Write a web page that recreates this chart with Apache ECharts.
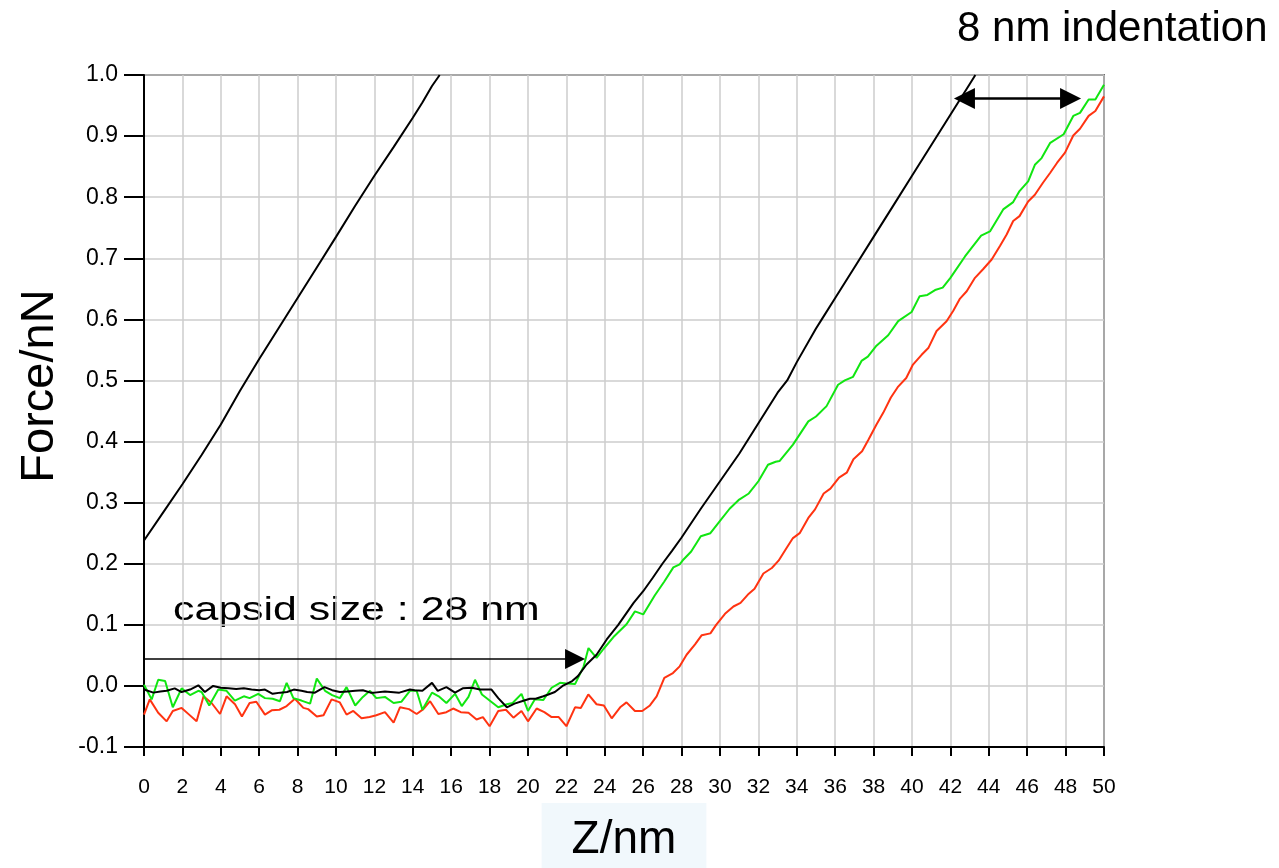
<!DOCTYPE html>
<html>
<head>
<meta charset="utf-8">
<script src="https://cdn.jsdelivr.net/npm/echarts@6/dist/echarts.min.js"></script>
<style>
html,body{margin:0;padding:0;background:#fff;}
#chart{width:1279px;height:868px;}
</style>
</head>
<body>
<div id="chart"></div>
<script>
// ---- Data (Z in nm, Force in nN) ----
const xTicks = [0,2,4,6,8,10,12,14,16,18,20,22,24,26,28,30,32,34,36,38,40,42,44,46,48,50];
const yTicks = [-0.1,0.0,0.1,0.2,0.3,0.4,0.5,0.6,0.7,0.8,0.9,1.0];

// reference (hard surface) curve
const refX = [0,1,2,3,4,5,6,7,8,9,10,11,12,13,14,14.5,15,15.4];
const refY = [0.238,0.284,0.33,0.378,0.428,0.483,0.535,0.585,0.635,0.685,0.735,0.786,0.835,0.882,0.93,0.955,0.982,1.0];

// black curve on capsid
const blackX = [0,0.49,0.85,1.18,1.6,1.96,2.4,2.83,3.17,3.6,4.0,4.4,4.8,5.2,5.6,6.0,6.3,6.7,7.1,7.45,7.8,8.2,8.5,8.9,9.4,9.8,10.2,10.6,11.0,11.4,11.8,12.0,12.55,13.3,13.85,14.1,14.5,15.0,15.3,15.75,16.2,16.6,17.07,17.5,18.1,18.45,18.9,19.3,19.8,20.1,20.4,20.8,21.06,21.4,21.8,22.3,22.6,23.05,23.57,24.1,24.7,25.5,26.0,26.5,27.0,27.5,28.0,29.0,30.0,31.0,32.0,33.0,33.5,34.0,35.0,35.3,36.0,37.0,38.0,39.0,40.0,41.0,42.0,43.0,43.3];
const blackY = [-0.006,-0.011,-0.009,-0.008,-0.004,-0.01,-0.006,0.001,-0.01,0.0,-0.003,-0.004,-0.005,-0.004,-0.006,-0.007,-0.006,-0.013,-0.011,-0.01,-0.006,-0.008,-0.01,-0.011,-0.002,-0.007,-0.01,-0.009,-0.008,-0.007,-0.011,-0.011,-0.009,-0.011,-0.006,-0.007,-0.008,0.005,-0.008,-0.002,-0.011,-0.004,-0.003,-0.006,-0.006,-0.02,-0.035,-0.029,-0.024,-0.021,-0.021,-0.017,-0.014,-0.01,0.0,0.008,0.016,0.035,0.051,0.076,0.1,0.136,0.155,0.177,0.2,0.221,0.243,0.29,0.335,0.38,0.43,0.48,0.5,0.53,0.585,0.6,0.635,0.685,0.735,0.785,0.835,0.885,0.935,0.985,1.0];

// green curve
const greenX = [0,0.4,0.74,1.1,1.5,1.96,2.4,2.83,3.0,3.4,3.87,4.3,4.73,5.2,5.5,5.95,6.3,6.7,7.08,7.43,7.78,8.2,8.65,9.0,9.43,9.8,10.2,10.55,11.0,11.4,11.77,12.1,12.55,13.0,13.4,13.85,14.2,14.5,15.0,15.35,15.75,16.2,16.55,16.9,17.24,17.6,18.0,18.45,18.9,19.2,19.66,20.0,20.36,20.8,21.23,21.67,22.0,22.45,22.9,23.15,23.57,23.92,24.45,25.13,25.57,26.0,26.6,27.1,27.57,27.9,28.1,28.5,29.0,29.5,30.0,30.5,31.0,31.5,32.0,32.5,32.9,33.1,33.8,34.6,35.0,35.55,36.15,36.5,36.93,37.37,37.7,38.15,38.76,39.28,39.98,40.4,40.8,41.2,41.6,42.0,42.76,43.6,44.06,44.75,45.27,45.6,46.05,46.4,46.75,47.2,47.9,48.4,48.75,49.2,49.55,50.0];
const greenY = [0.002,-0.022,0.01,0.008,-0.035,-0.004,-0.015,-0.008,-0.01,-0.032,-0.006,-0.008,-0.024,-0.017,-0.02,-0.013,-0.02,-0.021,-0.025,0.005,-0.02,-0.024,-0.029,0.012,-0.008,-0.015,-0.02,-0.002,-0.032,-0.018,-0.008,-0.02,-0.018,-0.028,-0.026,-0.008,-0.008,-0.039,-0.011,-0.017,-0.028,-0.013,-0.033,-0.018,0.01,-0.014,-0.024,-0.035,-0.03,-0.028,-0.013,-0.041,-0.022,-0.023,-0.003,0.005,0.004,0.003,0.032,0.062,0.046,0.06,0.08,0.101,0.122,0.117,0.148,0.171,0.194,0.199,0.207,0.22,0.245,0.25,0.27,0.29,0.305,0.315,0.335,0.362,0.367,0.368,0.395,0.433,0.441,0.458,0.493,0.5,0.506,0.532,0.539,0.557,0.574,0.597,0.612,0.638,0.64,0.648,0.652,0.668,0.703,0.737,0.744,0.78,0.792,0.81,0.826,0.853,0.864,0.889,0.903,0.933,0.938,0.96,0.96,0.984];

// red curve
const redX = [0,0.3,0.74,1.18,1.5,1.96,2.35,2.74,3.1,3.52,3.96,4.3,4.74,5.1,5.5,5.85,6.3,6.65,7.05,7.43,7.86,8.3,8.55,9.0,9.35,9.77,10.2,10.55,10.9,11.33,11.75,12.1,12.55,13.0,13.33,13.8,14.2,14.55,14.9,15.33,15.75,16.1,16.5,16.9,17.32,17.65,18.0,18.45,18.85,19.24,19.66,20.0,20.45,20.85,21.23,21.6,22.0,22.45,22.75,23.14,23.57,23.95,24.36,24.8,25.13,25.57,25.95,26.35,26.7,27.1,27.55,27.9,28.26,28.7,29.05,29.5,29.8,30.26,30.7,31.07,31.5,31.8,32.26,32.7,33.05,33.45,33.8,34.15,34.6,34.95,35.4,35.75,36.2,36.6,36.95,37.4,37.73,38.15,38.5,38.9,39.28,39.7,40.05,40.5,40.85,41.28,41.8,42.15,42.5,42.85,43.28,43.7,44.15,44.58,44.93,45.27,45.6,46.05,46.4,46.83,47.2,47.55,47.97,48.4,48.75,49.2,49.55,50];
const redY = [-0.047,-0.022,-0.044,-0.058,-0.041,-0.036,-0.047,-0.058,-0.017,-0.028,-0.046,-0.017,-0.03,-0.05,-0.028,-0.026,-0.047,-0.04,-0.039,-0.033,-0.021,-0.036,-0.038,-0.05,-0.048,-0.022,-0.027,-0.047,-0.041,-0.053,-0.051,-0.048,-0.043,-0.06,-0.035,-0.038,-0.046,-0.038,-0.025,-0.046,-0.043,-0.037,-0.043,-0.044,-0.055,-0.051,-0.066,-0.041,-0.039,-0.052,-0.041,-0.058,-0.037,-0.043,-0.051,-0.051,-0.066,-0.035,-0.036,-0.014,-0.03,-0.032,-0.053,-0.035,-0.027,-0.041,-0.041,-0.032,-0.017,0.013,0.021,0.032,0.051,0.068,0.083,0.086,0.1,0.118,0.13,0.136,0.151,0.159,0.184,0.193,0.205,0.225,0.242,0.25,0.275,0.289,0.315,0.323,0.341,0.349,0.371,0.384,0.403,0.428,0.447,0.472,0.49,0.504,0.526,0.542,0.553,0.581,0.597,0.614,0.634,0.646,0.668,0.682,0.698,0.72,0.739,0.761,0.769,0.793,0.804,0.824,0.84,0.856,0.873,0.901,0.912,0.933,0.941,0.965];

// annotation arrows (data coordinates)
const capsidArrow = {x0: 0, x1: 22.45, y: 0.044};
const indentArrow = {x0: 42.73, x1: 48.26, y: 0.9615};

const texts = {
  xName: 'Z/nm',
  yName: 'Force/nN',
  capsid: 'capsid size : 28 nm',
  indent: '8 nm indentation'
};

const FONT = 'Arial, "Liberation Sans", sans-serif';
const pairs = (xs, ys) => xs.map((x, i) => [x, ys[i]]);

const chart = echarts.init(document.getElementById('chart'), null, {renderer: 'canvas'});

const lineSeries = (name, xs, ys, color) => ({
  name, type: 'line', data: pairs(xs, ys), showSymbol: false, symbol: 'none',
  lineStyle: {color, width: 2}, itemStyle: {color}, z: 3, silent: true
});

chart.setOption({
  animation: false,
  backgroundColor: '#ffffff',
  grid: {left: 144, right: 175, top: 75, bottom: 121, show: true, borderColor: '#000', borderWidth: 1.5, containLabel: false, outerBoundsMode: 'none'},
  xAxis: {
    type: 'value', min: 0, max: 50, interval: 2,
    name: texts.xName, nameLocation: 'middle', nameGap: 56,
    nameTextStyle: {fontFamily: FONT, fontSize: 46, color: '#000', backgroundColor: '#f1f8fc', padding: [14, 30, 14, 30], lineHeight: 46},
    axisLine: {show: true, onZero: false, lineStyle: {color: '#000', width: 2}},
    axisTick: {show: true, inside: false, length: 9, lineStyle: {color: '#000', width: 2}},
    axisLabel: {fontFamily: FONT, fontSize: 21, color: '#000', margin: 30,
      formatter: v => xTicks.includes(Math.round(v)) ? String(Math.round(v)) : ''},
    splitLine: {show: true, lineStyle: {color: '#cccccc', width: 1.5}}
  },
  yAxis: {
    type: 'value', min: -0.1, max: 1.0, interval: 0.1,
    name: texts.yName, nameLocation: 'middle', nameGap: 80, nameRotate: 90,
    nameTextStyle: {fontFamily: FONT, fontSize: 47, color: '#000', padding: [0, 0, 0, 50]},
    axisLine: {show: true, onZero: false, lineStyle: {color: '#000', width: 2}},
    axisTick: {show: true, inside: false, length: 20, lineStyle: {color: '#000', width: 2}},
    axisLabel: {fontFamily: FONT, fontSize: 23, color: '#000', margin: 26,
      formatter: v => { const r = Math.round(v * 10) / 10; return (Math.abs(r) < 1e-9 ? 0 : r).toFixed(1); }},
    splitLine: {show: true, lineStyle: {color: '#cccccc', width: 1.5}}
  },
  series: [
    lineSeries('reference', refX, refY, '#000000'),
    lineSeries('red', redX, redY, '#ff3311'),
    lineSeries('green', greenX, greenY, '#11e611'),
    lineSeries('black', blackX, blackY, '#000000'),
    {
      name: 'arrows', type: 'line', data: [], clip: false, silent: true, z: 5,
      markLine: {
        silent: true, animation: false,
        symbol: ['none', 'triangle'], symbolSize: 20,
        label: {show: false},
        emphasis: {disabled: true},
        data: [
          [{coord: [capsidArrow.x0, capsidArrow.y], symbol: 'none', lineStyle: {color: '#000', width: 1.5, type: 'solid'}},
           {coord: [capsidArrow.x1, capsidArrow.y], symbol: 'triangle', symbolSize: 20}],
          [{coord: [indentArrow.x0, indentArrow.y], symbol: 'triangle', symbolSize: 21, lineStyle: {color: '#000', width: 2.5, type: 'solid'}},
           {coord: [indentArrow.x1, indentArrow.y], symbol: 'triangle', symbolSize: 21}]
        ],
        lineStyle: {color: '#000', type: 'solid'}
      }
    }
  ],
  graphic: [
    {type: 'text', x: 173, y: 611, scaleX: 1.26, silent: true,
      style: {text: texts.capsid, fontFamily: FONT, fontSize: 34, fill: '#000', textVerticalAlign: 'middle'}},
    {type: 'text', x: 957, y: 29, silent: true,
      style: {text: texts.indent, fontFamily: FONT, fontSize: 42, fill: '#000', textVerticalAlign: 'middle'}}
  ]
});
</script>
</body>
</html>
